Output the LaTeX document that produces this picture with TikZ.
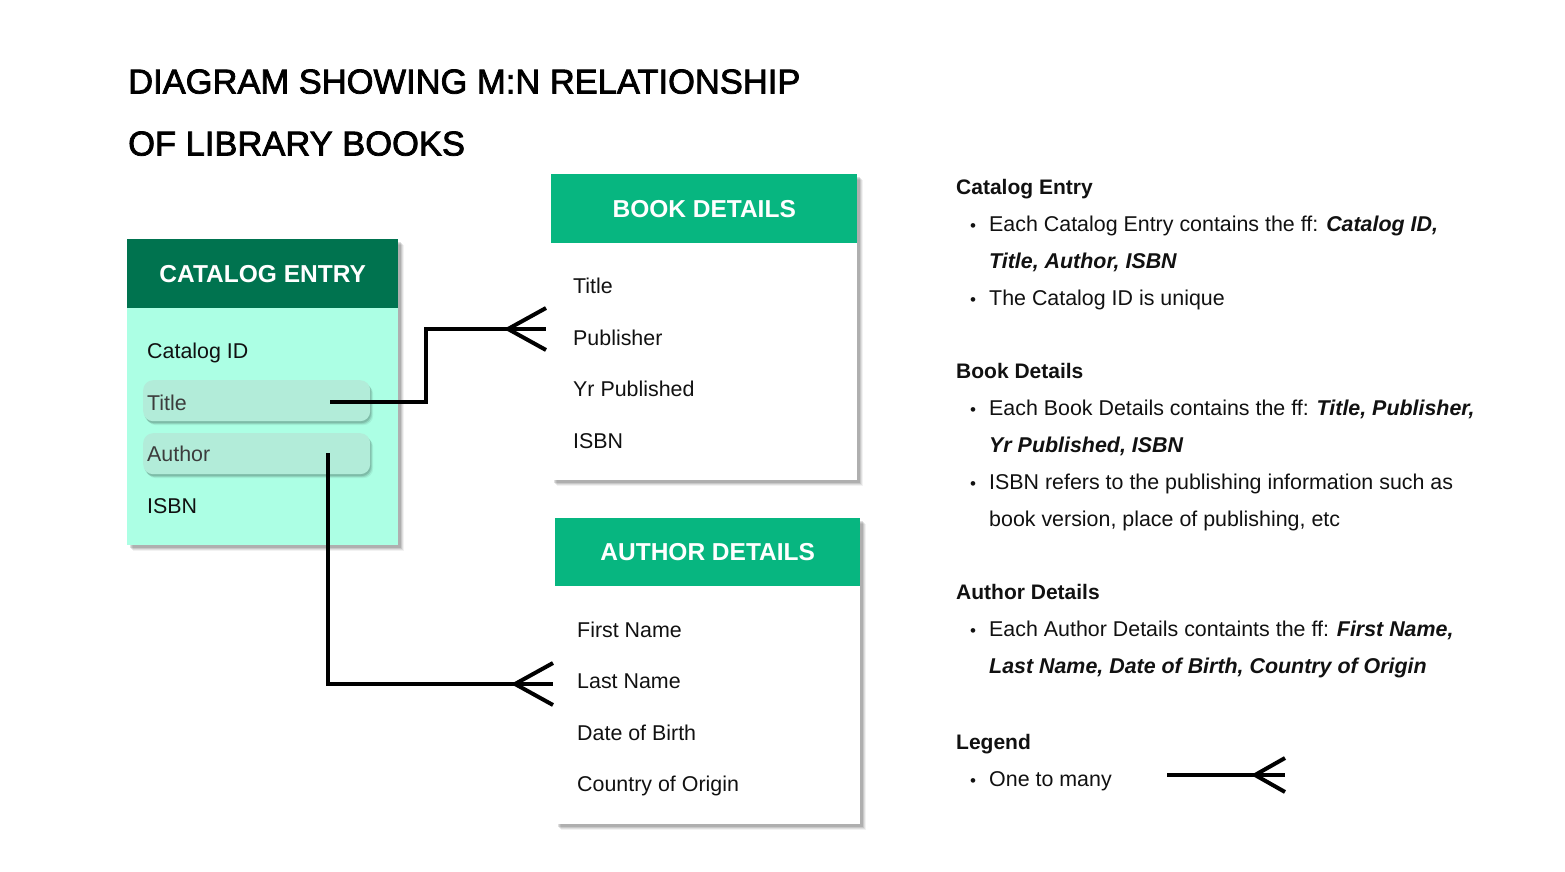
\documentclass[tikz,border=0pt]{standalone}
\usepackage{fontspec}
\setmainfont{Liberation Sans}
\newfontfamily\medfont[FakeBold=2.2]{Liberation Sans}
\usetikzlibrary{shadows}
\definecolor{darkhead}{HTML}{00734F}
\definecolor{brighthead}{HTML}{07B680}
\definecolor{mintbody}{HTML}{ACFFE4}
\definecolor{hlrow}{HTML}{B2ECD9}
\definecolor{txt}{HTML}{111111}
\definecolor{hltxt}{HTML}{3C3C3C}
\begin{document}
\begin{tikzpicture}[x=1pt,y=-1pt,
  cardshadow/.style={
    drop shadow={shadow xshift=6pt,shadow yshift=-6pt,fill=black,opacity=0.05},
    drop shadow={shadow xshift=5pt,shadow yshift=-5pt,fill=black,opacity=0.08},
    drop shadow={shadow xshift=4pt,shadow yshift=-4pt,fill=black,opacity=0.10},
    drop shadow={shadow xshift=3pt,shadow yshift=-3pt,fill=black,opacity=0.12}},
  hdr/.style={anchor=north west,inner sep=0,text=white,font=\fontsize{24.5}{28}\selectfont\bfseries},
  body/.style={anchor=north west,inner sep=0,cardshadow},
  row/.style={anchor=base west,inner sep=0,text=txt,font=\fontsize{21.4}{25}\selectfont},
  hlbox/.style={anchor=north west,inner sep=0,fill=hlrow,rounded corners=10pt,
     drop shadow={shadow xshift=3pt,shadow yshift=-4pt,fill=black,opacity=0.06},
     drop shadow={shadow xshift=2pt,shadow yshift=-3pt,fill=black,opacity=0.10},
     drop shadow={shadow xshift=1pt,shadow yshift=-2pt,fill=black,opacity=0.12}},
  ttl/.style={anchor=base west,inner sep=0,text=black,font=\fontsize{34.5}{40}\medfont},
  note/.style={anchor=base west,inner sep=0,text=txt,font=\fontsize{21.4}{25}\selectfont},
  notehd/.style={anchor=base west,inner sep=0,text=txt,font=\fontsize{21}{25}\selectfont\bfseries},
  bul/.style={anchor=base,inner sep=0,text=txt,font=\fontsize{17}{20}\selectfont},
  link/.style={line width=4pt,black},
  crow/.style={line width=4pt,black}
]
\useasboundingbox (0,0) rectangle (1565,872);
\fill[white] (0,0) rectangle (1565,872);

% Title
\node[ttl] (t1) at (128,93.5) {DIAGRAM SHOWING M:N RELATIONSHIP};
\node[ttl] (t2) at (128,155.5) {OF LIBRARY BOOKS};

% Catalog entry card
\node[body,fill=mintbody,minimum width=271pt,minimum height=306pt] (cbody) at (127,239) {};
\node[hdr,fill=darkhead,minimum width=271pt,minimum height=69pt] (chead) at (127,239) {CATALOG ENTRY};
\node[hlbox,minimum width=227pt,minimum height=41pt] (hlTitle) at (143,380) {};
\node[hlbox,minimum width=227pt,minimum height=41pt] (hlAuthor) at (143,433) {};
\node[row] (cid) at (147,358.5) {Catalog ID};
\node[row,text=hltxt] (ctitle) at (147,410.5) {Title};
\node[row,text=hltxt] (cauthor) at (147,461.5) {Author};
\node[row] (cisbn) at (147,513.5) {ISBN};

% Book details card
\node[body,fill=white,minimum width=306pt,minimum height=306pt] (bbody) at (551,174) {};
\node[hdr,fill=brighthead,minimum width=306pt,minimum height=69pt] (bhead) at (551,174) {BOOK DETAILS};
\node[row] (btitle) at (573,293.5) {Title};
\node[row] (bpub) at (573,345.5) {Publisher};
\node[row] (byr) at (573,396.5) {Yr Published};
\node[row] (bisbn) at (573,448.5) {ISBN};

% Author details card
\node[body,fill=white,minimum width=305pt,minimum height=306pt] (abody) at (555,518) {};
\node[hdr,fill=brighthead,minimum width=305pt,minimum height=68pt] (ahead) at (555,518) {AUTHOR DETAILS};
\node[row] (afirst) at (577,637.5) {First Name};
\node[row] (alast) at (577,688.5) {Last Name};
\node[row] (adob) at (577,740.5) {Date of Birth};
\node[row] (acountry) at (577,791.5) {Country of Origin};

% Connector Title -> Book details
\coordinate (c1s) at (330,402);
\coordinate (c1m) at (426,402);
\coordinate (c1e) at (546,329);
\coordinate (c1v) at (508,329);
\coordinate (c1u) at (546,308);
\coordinate (c1d) at (546,350);
\draw[link] (c1s) -- (c1m) |- (c1e);
\draw[crow] (c1u) -- (c1v) -- (c1d);

% Connector Author -> Author details
\coordinate (c2s) at (328,453);
\coordinate (c2e) at (553,684);
\coordinate (c2v) at (515,684);
\coordinate (c2u) at (553,663);
\coordinate (c2d) at (553,705);
\draw[link] (c2s) |- (c2e);
\draw[crow] (c2u) -- (c2v) -- (c2d);

% Notes
\node[notehd] (n1) at (956,194.5) {Catalog Entry};
\node[bul] (b11) at (973,231.5) {•};
\node[note] (n11) at (989,231.5) {Each Catalog Entry contains the ff: \textbf{\textit{Catalog ID,}}};
\node[note] (n12) at (989,268.5) {\textbf{\textit{Title, Author, ISBN}}};
\node[bul] (b12) at (973,305.5) {•};
\node[note] (n13) at (989,305.5) {The Catalog ID is unique};

\node[notehd] (n2) at (956,378.5) {Book Details};
\node[bul] (b21) at (973,415.5) {•};
\node[note] (n21) at (989,415.5) {Each Book Details contains the ff: \textbf{\textit{Title, Publisher,}}};
\node[note] (n22) at (989,452.5) {\textbf{\textit{Yr Published, ISBN}}};
\node[bul] (b22) at (973,489.5) {•};
\node[note] (n23) at (989,489.5) {ISBN refers to the publishing information such as};
\node[note] (n24) at (989,526.5) {book version, place of publishing, etc};

\node[notehd] (n3) at (956,599.5) {Author Details};
\node[bul] (b31) at (973,636.5) {•};
\node[note] (n31) at (989,636.5) {Each Author Details containts the ff: \textbf{\textit{First Name,}}};
\node[note] (n32) at (989,673.5) {\textbf{\textit{Last Name, Date of Birth, Country of Origin}}};

\node[notehd] (n4) at (956,749.5) {Legend};
\node[bul] (b41) at (973,786.5) {•};
\node[note] (n41) at (989,786.5) {One to many};

% Legend symbol
\coordinate (l1) at (1167,775);
\coordinate (l2) at (1285,775);
\coordinate (lv) at (1255,775);
\coordinate (lu) at (1285,758);
\coordinate (ld) at (1285,792);
\draw[link] (l1) -- (l2);
\draw[crow] (lu) -- (lv) -- (ld);
\end{tikzpicture}
\end{document}
